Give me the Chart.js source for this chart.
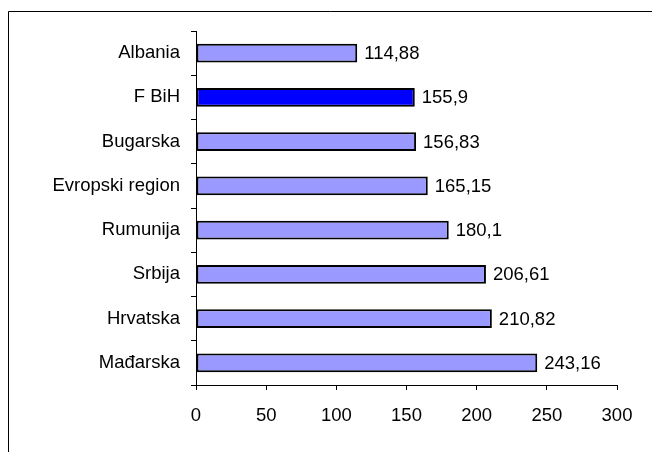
<!DOCTYPE html>
<html>
<head>
<meta charset="utf-8">
<script src="https://cdn.jsdelivr.net/npm/chart.js@4/dist/chart.umd.min.js"></script>
<style>
html,body{margin:0;padding:0;background:#fff;}
#wrap{position:relative;width:652px;height:452px;}
</style>
</head>
<body>
<div id="wrap"><canvas id="c" width="652" height="452"></canvas></div>
<script>
const categories = ["Albania", "F BiH", "Bugarska", "Evropski region", "Rumunija", "Srbija", "Hrvatska", "Mađarska"];
const values = [114.88, 155.9, 156.83, 165.15, 180.1, 206.61, 210.82, 243.16];
const valueLabels = ["114,88", "155,9", "156,83", "165,15", "180,1", "206,61", "210,82", "243,16"];
const barColors = ["#9999FF", "#0000FF", "#9999FF", "#9999FF", "#9999FF", "#9999FF", "#9999FF", "#9999FF"];
const xTicks = [0, 50, 100, 150, 200, 250, 300];

const FONT = "'Liberation Sans', Arial, sans-serif";
const FSIZE = 18.5;

const frame = {
  id: 'frame',
  beforeDraw(chart) {
    const ctx = chart.ctx;
    ctx.save();
    ctx.fillStyle = '#fff';
    ctx.fillRect(0, 0, chart.width, chart.height);
    ctx.strokeStyle = '#000';
    ctx.lineWidth = 1;
    ctx.beginPath();
    ctx.moveTo(8.5, chart.height + 5);
    ctx.lineTo(8.5, 11.5);
    ctx.lineTo(chart.width + 5, 11.5);
    ctx.stroke();
    ctx.restore();
  }
};

const valueLabelPlugin = {
  id: 'valueLabels',
  afterDatasetsDraw(chart) {
    const ctx = chart.ctx;
    const meta = chart.getDatasetMeta(0);
    ctx.save();
    ctx.font = FSIZE + 'px ' + FONT;
    ctx.fillStyle = '#000';
    ctx.textAlign = 'left';
    ctx.textBaseline = 'middle';
    meta.data.forEach((bar, i) => {
      ctx.fillText(valueLabels[i], bar.x + 7, bar.y + 1);
    });
    ctx.restore();
  }
};

new Chart(document.getElementById('c'), {
  type: 'bar',
  data: {
    labels: categories,
    datasets: [{
      data: values,
      backgroundColor: barColors,
      borderColor: '#000',
      borderWidth: 2,
      borderSkipped: false,
      barPercentage: 0.42,
      categoryPercentage: 1
    }]
  },
  options: {
    indexAxis: 'y',
    responsive: false,
    animation: false,
    devicePixelRatio: 1,
    layout: { padding: { left: 0, top: 31, right: 35, bottom: 0 } },
    plugins: { legend: { display: false }, tooltip: { enabled: false } },
    scales: {
      x: {
        min: 0, max: 300,
        afterFit(s) { s.height = 67; },
        afterBuildTicks(s) { s.ticks = xTicks.map(v => ({ value: v })); },
        grid: { drawOnChartArea: false, drawTicks: true, tickLength: 5, color: '#000', tickColor: '#000' },
        border: { display: true, color: '#000', width: 1 },
        ticks: { color: '#000', font: { family: FONT, size: FSIZE }, padding: 15, maxRotation: 0 }
      },
      y: {
        afterFit(s) { s.width = 196; },
        grid: { offset: true, drawOnChartArea: false, drawTicks: true, tickLength: 5, color: '#000', tickColor: '#000' },
        border: { display: true, color: '#000', width: 1 },
        ticks: { color: '#000', font: { family: FONT, size: FSIZE }, padding: 11, autoSkip: false }
      }
    }
  },
  plugins: [frame, valueLabelPlugin]
});
</script>
</body>
</html>
